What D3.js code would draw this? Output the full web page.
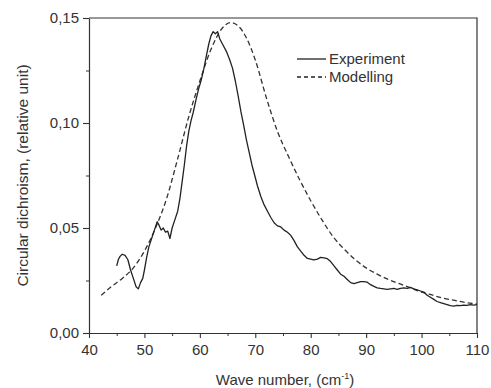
<!DOCTYPE html>
<html>
<head>
<meta charset="utf-8">
<script src="https://cdn.jsdelivr.net/npm/d3@7"></script>
<style>
  body { margin: 0; background: #fff; }
  text { font-family: Arial, "Liberation Sans", sans-serif; fill: #333; }
</style>
</head>
<body>
<div id="chart"></div>
<script>
const expX = [45.0,45.3,45.6,46.0,46.5,47.0,47.5,48.0,48.5,48.9,49.3,49.7,50.0,50.4,50.8,51.3,51.8,52.3,52.6,53.0,
  53.4,53.8,54.2,54.6,55.0,55.5,56.0,56.4,56.8,57.2,57.6,58.0,58.4,58.8,59.3,59.8,60.2,60.7,61.1,61.6,
  62.0,62.4,62.8,63.2,63.6,64.2,64.8,65.4,65.9,66.4,66.9,67.4,67.9,68.4,68.9,69.4,69.9,70.4,71.0,71.6,
  72.2,72.8,73.4,74.0,74.6,75.2,75.8,76.4,77.0,77.6,78.2,78.8,79.4,80.0,80.6,81.2,81.8,82.4,83.0,83.6,
  84.2,84.8,85.4,86.0,86.6,87.2,87.8,88.4,89.0,89.6,90.2,90.8,91.4,92.0,92.6,93.2,93.8,94.4,95.0,95.6,
  96.2,96.8,97.4,98.0,98.6,99.2,99.8,100.4,101.0,101.6,102.2,102.8,103.4,104.0,104.6,105.2,105.8,106.4,
  107.0,107.6,108.2,108.8,109.4,110.0];
const expY = [0.032,0.035,0.0365,0.0375,0.037,0.035,0.030,0.026,0.022,0.021,0.024,0.026,0.030,0.036,0.041,0.045,0.049,0.053,0.0515,0.049,
  0.050,0.048,0.0485,0.045,0.050,0.054,0.058,0.064,0.072,0.080,0.089,0.096,0.101,0.105,0.111,0.1165,0.120,0.1255,0.131,0.1375,
  0.1415,0.1435,0.1425,0.1435,0.140,0.137,0.134,0.130,0.126,0.120,0.113,0.1055,0.099,0.092,0.086,0.080,0.075,0.070,0.065,0.061,
  0.058,0.055,0.0525,0.051,0.0505,0.049,0.048,0.0465,0.044,0.041,0.039,0.037,0.0355,0.0352,0.0348,0.0352,0.036,0.0358,0.0354,0.034,
  0.032,0.030,0.028,0.027,0.0255,0.024,0.0235,0.024,0.0245,0.0245,0.0242,0.023,0.0222,0.0215,0.0212,0.021,0.0208,0.021,0.0212,0.0208,
  0.0213,0.0215,0.0212,0.0217,0.021,0.0205,0.020,0.0195,0.018,0.017,0.016,0.015,0.0145,0.014,0.0135,0.013,0.0128,0.0132,
  0.013,0.0133,0.0132,0.0135,0.0133,0.0135];

// modelled curve
const modX = [42.2,44,46,48,50,52,54,56,58,60,62,64,65.5,67,68.5,70,72,74,76,78,80,82,84,86,88,90,92,94,96,98,100,102,104,106,108,110];
const modY = [0.018,0.022,0.026,0.031,0.039,0.050,0.064,0.083,0.103,0.120,0.135,0.145,0.1478,0.146,0.140,0.130,0.112,0.096,0.084,0.073,
  0.063,0.054,0.046,0.040,0.035,0.031,0.028,0.0255,0.0235,0.0215,0.0195,0.018,0.0165,0.0155,0.0145,0.0138];

const xTicks = [40,50,60,70,80,90,100,110];
const yTicks = [0,0.05,0.10,0.15];
const seriesNames = ["Experiment","Modelling"];

var width = 491, height = 388;
var margin = {top: 18, right: 14, bottom: 55, left: 89};

var svg = d3.select("#chart").append("svg")
    .attr("width", width)
    .attr("height", height);

var x = d3.scaleLinear().domain([40,110]).range([margin.left, width - margin.right]);
var y = d3.scaleLinear().domain([0,0.15]).range([height - margin.bottom, margin.top]);

var fmt = v => d3.format(".2f")(v).replace(".", ",");
var ink = "#333";

// frame (top and right)
svg.append("path")
    .attr("d", `M${x(40)},${y(0.15)}H${x(110)}V${y(0)}`)
    .attr("fill", "none").attr("stroke", ink).attr("stroke-width", 1.2);

// minor ticks
svg.append("g")
    .attr("transform", `translate(0,${y(0)})`)
    .call(d3.axisBottom(x).tickValues(d3.range(45,110,10)).tickSize(3).tickFormat(""))
    .call(g => g.select(".domain").remove())
    .selectAll("line").attr("stroke", ink);
svg.append("g")
    .attr("transform", `translate(${x(40)},0)`)
    .call(d3.axisLeft(y).tickValues([0.025,0.075,0.125]).tickSize(3).tickFormat(""))
    .call(g => g.select(".domain").remove())
    .selectAll("line").attr("stroke", ink);

// main axes
var xAxis = svg.append("g")
    .attr("transform", `translate(0,${y(0)})`)
    .call(d3.axisBottom(x).tickValues(xTicks).tickSize(5).tickSizeOuter(0).tickPadding(6));
var yAxis = svg.append("g")
    .attr("transform", `translate(${x(40)},0)`)
    .call(d3.axisLeft(y).tickValues(yTicks).tickFormat(fmt).tickSize(6).tickSizeOuter(0).tickPadding(4));

[xAxis, yAxis].forEach(a => {
  a.select(".domain").attr("stroke", ink).attr("stroke-width", 1.2);
  a.selectAll(".tick line").attr("stroke", ink).attr("stroke-width", 1.1);
  a.selectAll(".tick text").attr("font-size", 15).attr("font-family", "Arial, 'Liberation Sans', sans-serif").attr("fill", ink);
});

// axis titles
var xt = svg.append("text")
    .attr("x", (x(40) + x(110)) / 2 + 2)
    .attr("y", 385)
    .attr("text-anchor", "middle")
    .attr("font-size", 15);
xt.append("tspan").text("Wave number, (cm");
xt.append("tspan").attr("dy", -6).attr("font-size", 9).text("-1");
xt.append("tspan").attr("dy", 6).text(")");

svg.append("text")
    .attr("transform", `translate(28,${(y(0) + y(0.15)) / 2}) rotate(-90)`)
    .attr("text-anchor", "middle")
    .attr("font-size", 15.5)
    .text("Circular dichroism, (relative unit)");

// curves
var line = d3.line().x(d => x(d[0])).y(d => y(d[1]));
svg.append("path")
    .datum(modX.map((v, i) => [v, modY[i]]))
    .attr("d", line.curve(d3.curveMonotoneX))
    .attr("fill", "none").attr("stroke", "#333").attr("stroke-width", 1.3)
    .attr("stroke-dasharray", "5,3");
svg.append("path")
    .datum(expX.map((v, i) => [v, expY[i]]))
    .attr("d", line.curve(d3.curveLinear))
    .attr("fill", "none").attr("stroke", "#222").attr("stroke-width", 1.3)
    .attr("stroke-linejoin", "round");

// legend
var legend = svg.append("g");
seriesNames.forEach((name, i) => {
  var ly = 59 + i * 18;
  legend.append("line")
      .attr("x1", 297).attr("x2", 326).attr("y1", ly).attr("y2", ly)
      .attr("stroke", "#222").attr("stroke-width", 1.3)
      .attr("stroke-dasharray", i ? "4,3" : null);
  legend.append("text")
      .attr("x", 329).attr("y", ly + 5)
      .attr("font-size", 15)
      .text(name);
});
</script>
</body>
</html>
